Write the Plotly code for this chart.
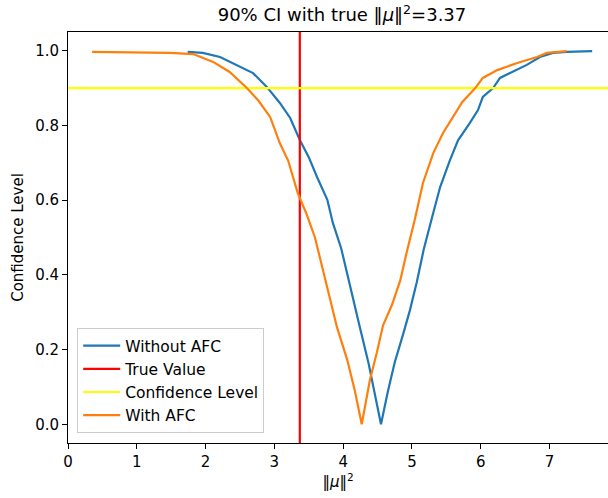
import plotly.graph_objects as go

# ---- data ----
true_value = 3.37
conf_level = 0.9

blue_x = [1.74, 1.96, 2.21, 2.45, 2.69, 2.89, 3.08, 3.23, 3.37, 3.50, 3.62, 3.77, 3.85,
          3.97, 4.10, 4.24, 4.37, 4.47, 4.55, 4.65, 4.75, 4.87, 4.97, 5.07, 5.17, 5.29,
          5.41, 5.55, 5.67, 5.84, 5.96, 6.03, 6.18, 6.28, 6.47, 6.67, 6.86, 7.05, 7.25, 7.62]
blue_y = [0.997, 0.994, 0.983, 0.962, 0.940, 0.903, 0.860, 0.820, 0.761, 0.715, 0.662,
          0.601, 0.539, 0.472, 0.367, 0.262, 0.163, 0.075, 0.0, 0.088, 0.166, 0.240,
          0.305, 0.380, 0.467, 0.552, 0.635, 0.706, 0.760, 0.806, 0.841, 0.876, 0.900,
          0.927, 0.943, 0.962, 0.983, 0.994, 0.997, 0.999]

orange_x = [0.35, 1.48, 1.82, 2.11, 2.35, 2.60, 2.77, 2.94, 3.08, 3.20, 3.34, 3.47, 3.59,
            3.70, 3.80, 3.91, 4.06, 4.17, 4.27, 4.39, 4.49, 4.58, 4.71, 4.83, 4.93, 5.04,
            5.16, 5.31, 5.45, 5.58, 5.73, 5.92, 6.03, 6.24, 6.53, 6.82, 6.96, 7.25]
orange_y = [0.997, 0.994, 0.991, 0.970, 0.943, 0.900, 0.866, 0.822, 0.752, 0.706, 0.619,
            0.562, 0.500, 0.420, 0.345, 0.260, 0.172, 0.090, 0.0, 0.120, 0.192, 0.265,
            0.320, 0.385, 0.465, 0.547, 0.646, 0.726, 0.779, 0.819, 0.862, 0.900, 0.927,
            0.948, 0.967, 0.983, 0.994, 0.999]

x_range = [0, 7.85]
y_range = [-0.05, 1.05]
x_ticks = [0, 1, 2, 3, 4, 5, 6, 7]
y_ticks = [0.0, 0.2, 0.4, 0.6, 0.8, 1.0]

FONT = "DejaVu Sans"

fig = go.Figure()
fig.add_trace(go.Scatter(x=blue_x, y=blue_y, mode="lines", name="Without AFC",
                         line=dict(color="#1f77b4", width=2.2)))
fig.add_trace(go.Scatter(x=[true_value, true_value], y=y_range, mode="lines", name="True Value",
                         line=dict(color="red", width=2.2)))
fig.add_trace(go.Scatter(x=[x_range[0], 9], y=[conf_level, conf_level], mode="lines",
                         name="Confidence Level", line=dict(color="yellow", width=2.2)))
fig.add_trace(go.Scatter(x=orange_x, y=orange_y, mode="lines", name="With AFC",
                         line=dict(color="#ff7f0e", width=2.2)))

fig.update_layout(
    width=608, height=498,
    margin=dict(l=68, r=0, t=32, b=55),
    paper_bgcolor="white", plot_bgcolor="white",
    font=dict(family=FONT, size=15, color="black"),
    title=dict(text="90% CI with true ‖<i>μ</i>‖<sup>2</sup>=3.37", x=342/608, xanchor="center",
               y=1 - 15/498, yanchor="middle", font=dict(size=18)),
    showlegend=True,
    legend=dict(x=0.017, y=0.024, xanchor="left", yanchor="bottom",
                bgcolor="rgba(255,255,255,0.8)", bordercolor="#cccccc", borderwidth=1,
                font=dict(size=15.5), itemwidth=37, tracegroupgap=0),
)
fig.update_xaxes(range=x_range, tickvals=x_ticks, ticks="outside", ticklen=5, tickwidth=1,
                 tickcolor="black", showline=True, linecolor="black", linewidth=1, mirror=True,
                 showgrid=False, zeroline=False, tickfont=dict(size=15),
                 title=dict(text="‖<i>μ</i>‖<sup>2</sup>", standoff=6, font=dict(size=15)))
fig.update_yaxes(range=y_range, tickvals=y_ticks, tickformat=".1f", ticks="outside", ticklen=5,
                 tickwidth=1, tickcolor="black", showline=True, linecolor="black", linewidth=1,
                 mirror=False, showgrid=False, zeroline=False, tickfont=dict(size=15),
                 title=dict(text="Confidence Level", standoff=7, font=dict(size=15)))

fig.write_html("out.html")
